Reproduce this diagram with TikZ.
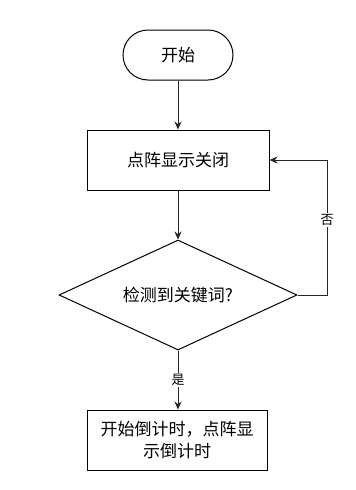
\documentclass[tikz,border=0pt]{standalone}
\usepackage{fontspec}
\setmainfont{Noto Sans CJK SC}
\usetikzlibrary{shapes.geometric,arrows.meta}
\begin{document}
\begin{tikzpicture}[x=1pt,y=-1pt,
  base/.style={draw=black,line width=1pt,font=\fontsize{17}{22}\selectfont,align=center,inner sep=0pt},
  pill/.style={base,rounded corners=25pt,minimum width=110pt,minimum height=50pt},
  procbox/.style={base,minimum width=182pt,minimum height=60pt},
  decision/.style={base,diamond,minimum width=238pt,minimum height=110pt,aspect=2.16},
  conn/.style={draw=black!85,line width=1pt,-{Stealth[length=8pt,width=7pt]}},
  lbl/.style={fill=white,font=\fontsize{13}{15}\selectfont,inner sep=1pt}]
\useasboundingbox (0,0) rectangle (356,490);
\node[pill] (start) at (178,55) {开始};
\node[procbox] (off) at (178,160) {点阵显示关闭};
\node[decision] (dec) at (178,295) {检测到关键词?};
\node[procbox,minimum width=180pt] (count) at (177,440) {开始倒计时，点阵显\\示倒计时};
\draw[conn] (start) -- (off);
\draw[conn] (off) -- (dec.north);
\draw[conn] (dec.south) -- (count.north -| dec.south) node[lbl,pos=0.5] (yes) {是};
\coordinate (corner1) at (327,295);
\coordinate (corner2) at (327,160);
\draw[conn] (dec.east) -- (corner1) -- (corner2) -- (off.east);
\node[lbl] (no) at (327,220) {否};
\end{tikzpicture}
\end{document}
